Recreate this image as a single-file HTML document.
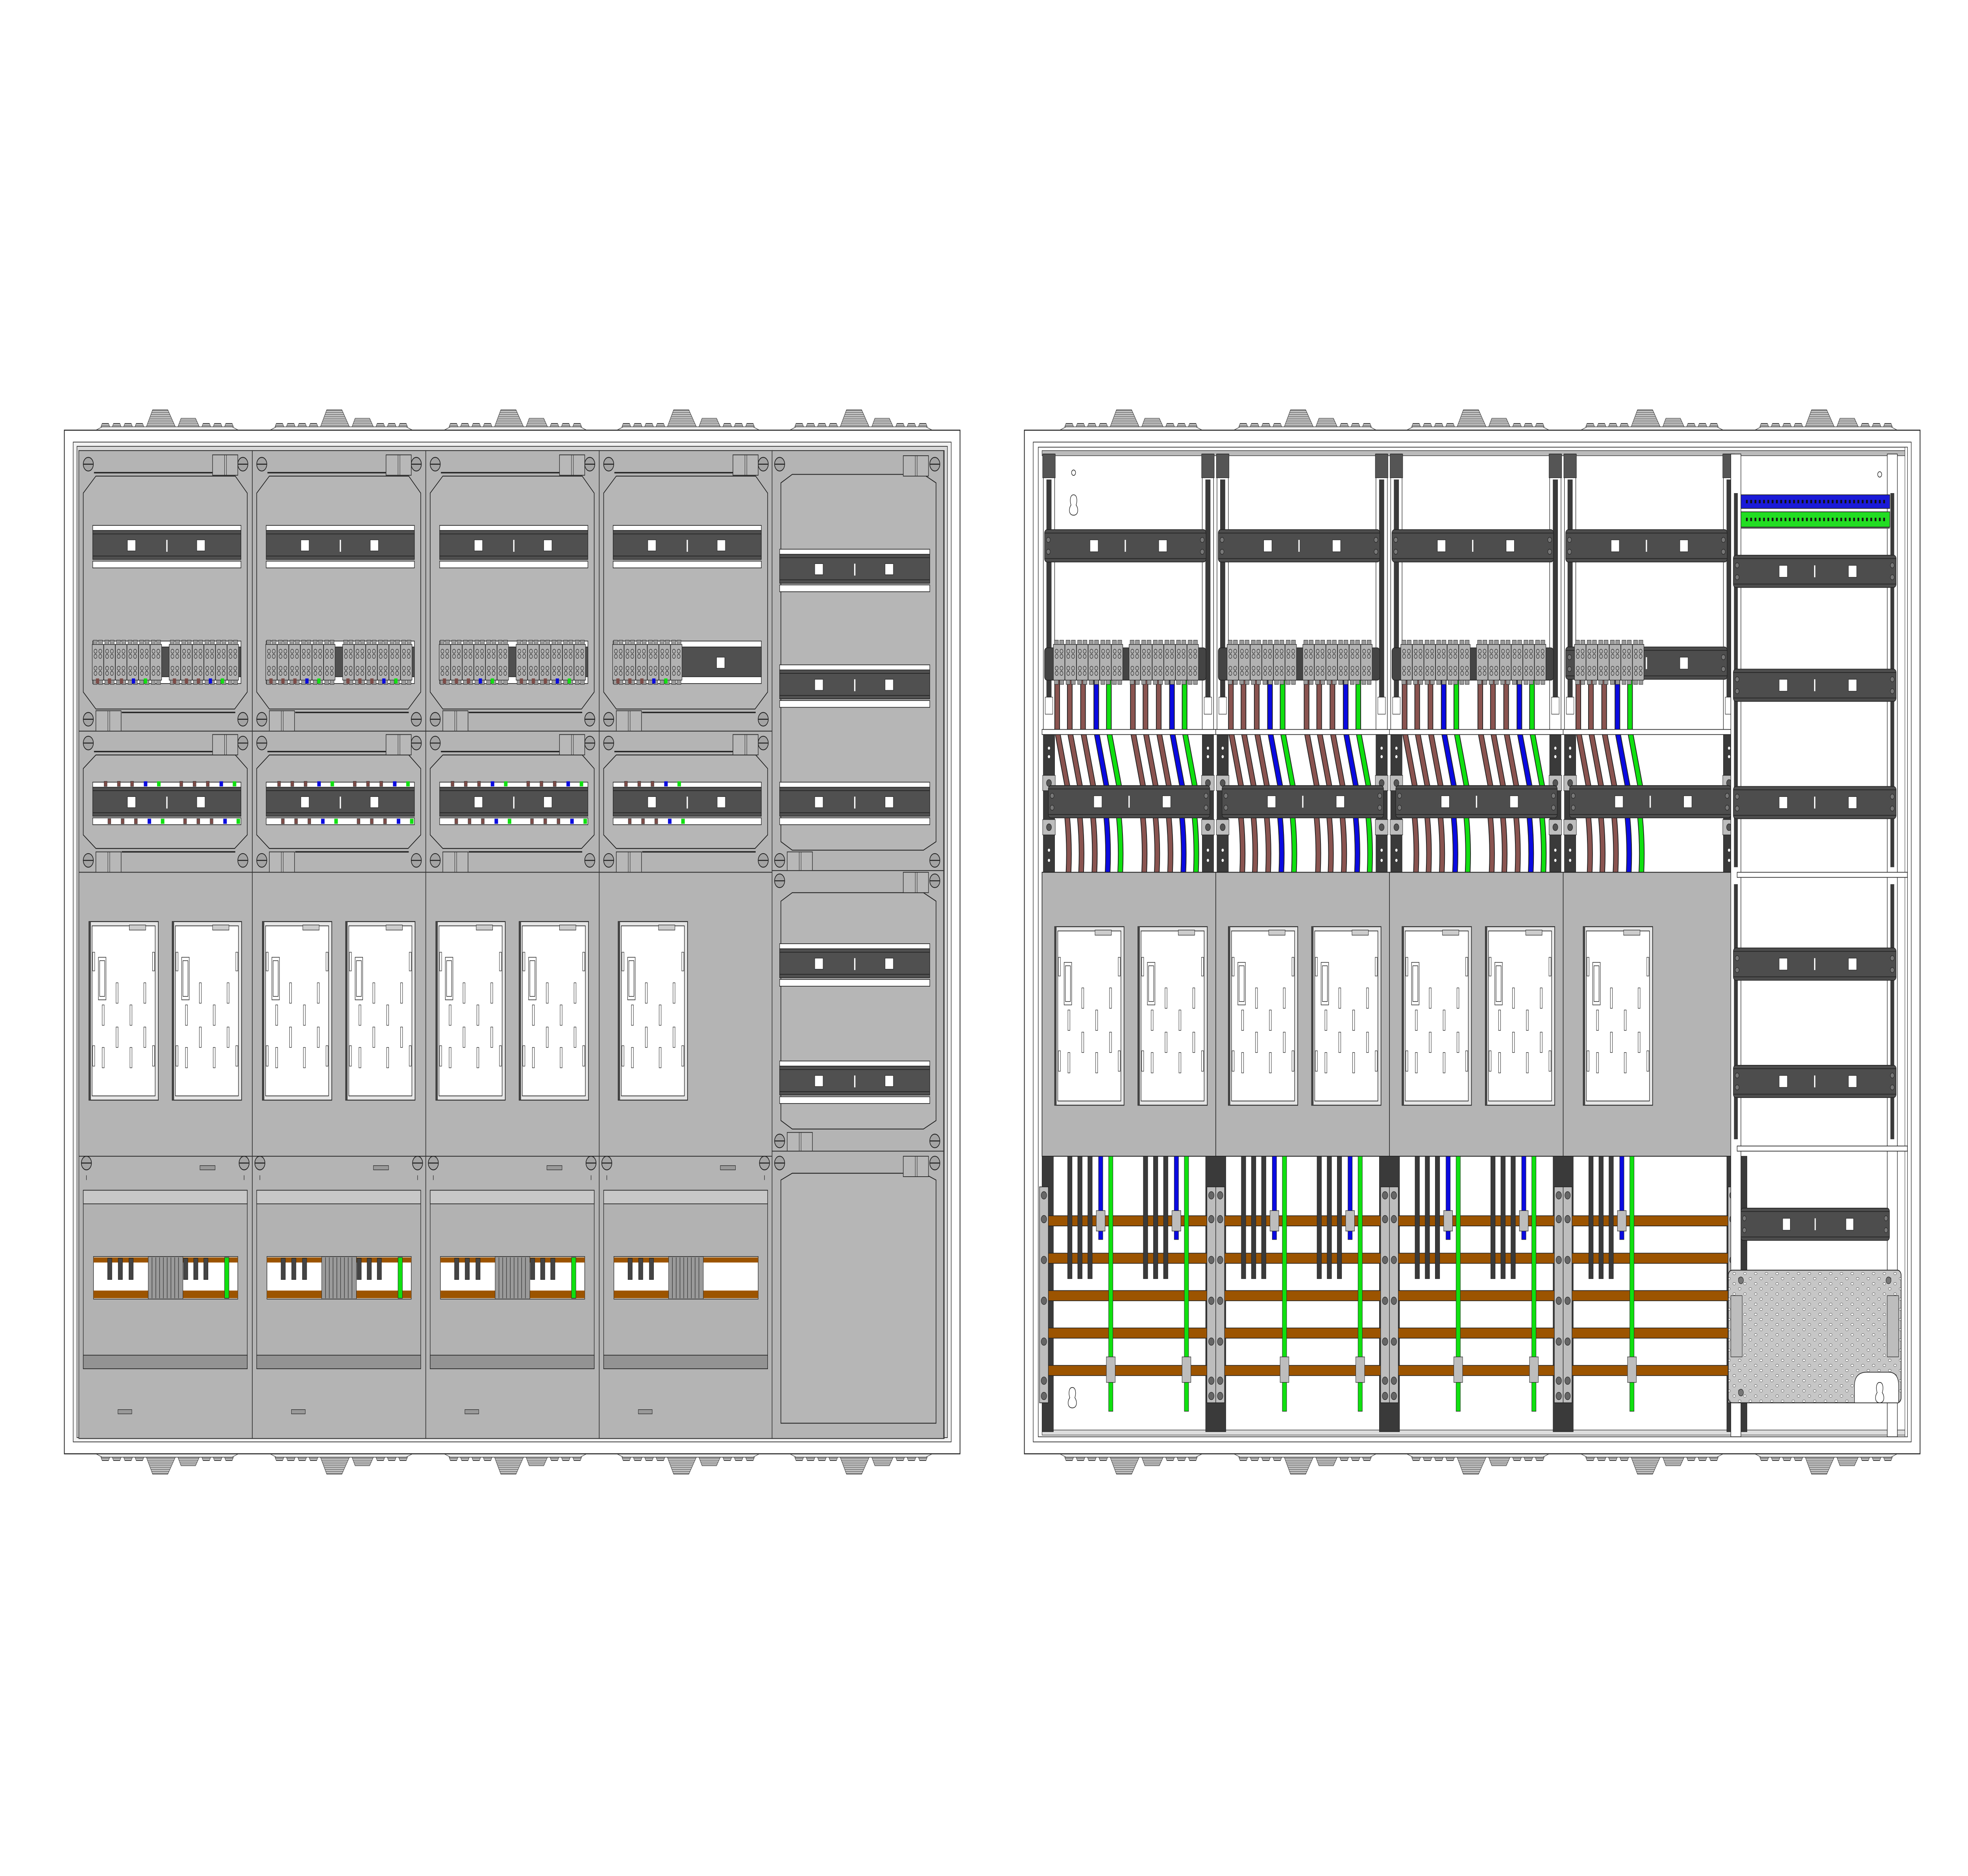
<!DOCTYPE html>
<html><head><meta charset="utf-8"><style>html,body{margin:0;padding:0;background:#fff;width:100%;height:100%;overflow:hidden}svg{display:block;position:fixed;left:0;top:0;width:100vw;height:100vh}</style></head>
<body>
<svg xmlns="http://www.w3.org/2000/svg" xmlns:xlink="http://www.w3.org/1999/xlink" viewBox="0 0 1560 1103.3" preserveAspectRatio="none">
<defs>
<pattern id="hatch" width="3" height="1.1" patternUnits="userSpaceOnUse"><rect width="3" height="1.1" fill="#d0d0d0"/><line x1="0" y1=".55" x2="3" y2=".55" stroke="#444" stroke-width=".3"/></pattern>
<pattern id="perf" x="1376" y="750" width="8.5" height="6" patternUnits="userSpaceOnUse"><rect width="8.5" height="6" fill="#c6c6c6"/><ellipse cx="3" cy="2" rx="1.1" ry=".7" fill="#fff" stroke="#333" stroke-width=".2"/><ellipse cx="7.2" cy="5" rx="1.1" ry=".7" fill="#fff" stroke="#333" stroke-width=".2"/></pattern>
<g id="gl">
<polygon points="0,12 5,10 108,10 113,12" fill="#eee" stroke="#333" stroke-width=".3"/>
<polygon points="4,10 5,8 10,8 11,10" fill="url(#hatch)" stroke="#333" stroke-width=".3"/>
<polygon points="13,10 14,8 19,8 20,10" fill="url(#hatch)" stroke="#333" stroke-width=".3"/>
<polygon points="22,10 23,8 28,8 29,10" fill="url(#hatch)" stroke="#333" stroke-width=".3"/>
<polygon points="31,10 32,8 37,8 38,10" fill="url(#hatch)" stroke="#333" stroke-width=".3"/>
<polygon points="40,10 45,0 57,0 63,10" fill="url(#hatch)" stroke="#333" stroke-width=".3"/>
<polygon points="65,10 67.5,5 79,5 82,10" fill="url(#hatch)" stroke="#333" stroke-width=".3"/>
<polygon points="84,10 85,8 90,8 91,10" fill="url(#hatch)" stroke="#333" stroke-width=".3"/>
<polygon points="93,10 94,8 99,8 100,10" fill="url(#hatch)" stroke="#333" stroke-width=".3"/>
<polygon points="102,10 103,8 108,8 109,10" fill="url(#hatch)" stroke="#333" stroke-width=".3"/>
</g>
<g id="scr"><circle r="4" fill="#a4a4a4" stroke="#222" stroke-width=".5"/><line x1="-4" y1="0" x2="4" y2="0" stroke="#222" stroke-width=".6"/></g>
<g id="hg"><rect width="20" height="12" fill="#b8b8b8" stroke="#222" stroke-width=".4"/><line x1="9.5" y1="0" x2="9.5" y2="12" stroke="#222" stroke-width=".3"/><line x1="11" y1="0" x2="11" y2="12" stroke="#222" stroke-width=".3"/></g>
<g id="railL">
<rect x="0" y="-12" width="117.5" height="3" fill="#fff" stroke="#222" stroke-width=".4"/>
<rect x="0" y="-9" width="117.5" height="17" fill="#505050" stroke="#222" stroke-width=".4"/>
<line x1="0" y1="-7" x2="117.5" y2="-7" stroke="#222" stroke-width=".4"/>
<line x1="0" y1="6" x2="117.5" y2="6" stroke="#222" stroke-width=".4"/>
<rect x="0" y="9" width="117.5" height="4" fill="#fff" stroke="#222" stroke-width=".4"/>
<rect x="27.5" y="-3.5" width="6.5" height="6.5" fill="#fff" stroke="#222" stroke-width=".3"/>
<rect x="82.5" y="-3.5" width="6.5" height="6.5" fill="#fff" stroke="#222" stroke-width=".3"/>
<rect x="58.3" y="-3.5" width="1" height="7" fill="#fff"/>
</g>
<g id="railR">
<rect x="0" y="-9.5" width="128" height="19" rx="2" fill="#4d4d4d" stroke="#222" stroke-width=".4"/>
<line x1="0" y1="-7.5" x2="128" y2="-7.5" stroke="#222" stroke-width=".4"/>
<line x1="0" y1="7.5" x2="128" y2="7.5" stroke="#222" stroke-width=".4"/>
<rect x="36" y="-3.5" width="6.5" height="7" fill="#fff" stroke="#222" stroke-width=".3"/>
<rect x="90.5" y="-3.5" width="6.5" height="7" fill="#fff" stroke="#222" stroke-width=".3"/>
<rect x="63.5" y="-3.5" width="1" height="7" fill="#fff"/>
<circle cx="3" cy="-3.5" r="1.5" fill="#777" stroke="#222" stroke-width=".3"/><circle cx="3" cy="3.5" r="1.5" fill="#777" stroke="#222" stroke-width=".3"/>
<circle cx="125" cy="-3.5" r="1.5" fill="#777" stroke="#222" stroke-width=".3"/><circle cx="125" cy="3.5" r="1.5" fill="#777" stroke="#222" stroke-width=".3"/>
</g>
<g id="blk">
<rect x="0" y="-11" width="9" height="21" fill="#b2b2b2" stroke="#222" stroke-width=".35"/>
<rect x=".8" y="-13.5" width="3.2" height="2.5" fill="#9a9a9a" stroke="#222" stroke-width=".25"/><rect x="5" y="-13.5" width="3.2" height="2.5" fill="#9a9a9a" stroke="#222" stroke-width=".25"/>
<rect x=".8" y="10" width="3.2" height="2.5" fill="#9a9a9a" stroke="#222" stroke-width=".25"/><rect x="5" y="10" width="3.2" height="2.5" fill="#9a9a9a" stroke="#222" stroke-width=".25"/>
<g fill="none" stroke="#222" stroke-width=".3"><circle cx="2.6" cy="-7" r="1.2"/><circle cx="6.4" cy="-7" r="1.2"/><circle cx="2.6" cy="-4" r="1.2"/><circle cx="6.4" cy="-4" r="1.2"/><circle cx="2.6" cy="3" r="1.2"/><circle cx="6.4" cy="3" r="1.2"/><circle cx="2.6" cy="6" r="1.2"/><circle cx="6.4" cy="6" r="1.2"/></g>
</g>
<g id="tb"><use href="#blk" x="0"/><use href="#blk" x="9.2"/><use href="#blk" x="18.4"/><use href="#blk" x="27.6"/><use href="#blk" x="36.8"/><use href="#blk" x="46"/></g>
<g id="mtr">
<rect width="55" height="105" fill="#e6e6e6" stroke="#222" stroke-width=".5"/>
<rect width="1.5" height="105" fill="#444"/>
<rect x="2.5" y="2.5" width="50" height="100" fill="#fff" stroke="#222" stroke-width=".4"/>
<rect x="32" y="2" width="13" height="3" fill="#ccc" stroke="#222" stroke-width=".3"/>
<path d="M7.5 21h6v25h-6z M8.5 23h4v21h-4z" fill="none" stroke="#222" stroke-width=".35"/>
<g fill="#fff" stroke="#222" stroke-width=".3">
<rect x="21.5" y="36" width="1.6" height="12"/><rect x="43.5" y="36" width="1.6" height="12"/>
<rect x="10.5" y="49" width="1.6" height="12"/><rect x="32.5" y="49" width="1.6" height="12"/>
<rect x="21.5" y="62" width="1.6" height="12"/><rect x="43.5" y="62" width="1.6" height="12"/>
<rect x="10.5" y="74" width="1.6" height="12"/><rect x="32.5" y="74" width="1.6" height="12"/>
<rect x="3" y="18" width="1.6" height="11"/><rect x="50.4" y="18" width="1.6" height="11"/>
<rect x="3" y="73" width="1.6" height="12"/><rect x="50.4" y="73" width="1.6" height="12"/>
</g>
</g>
<g id="modA">
<rect x="0" y="265" width="137.5" height="165" fill="#b4b4b4" stroke="#333" stroke-width=".5"/>
<polygon points="13.5,280 124,280 133.5,290 133.5,407 123.5,417 13.5,417 3.5,407 3.5,290" fill="#b6b6b6" stroke="#222" stroke-width=".5"/>
<line x1="12" y1="278" x2="106" y2="278" stroke="#222" stroke-width=".8"/>
<line x1="34" y1="419" x2="124" y2="419" stroke="#222" stroke-width=".8"/>
<use href="#scr" x="7.5" y="273"/><use href="#scr" x="130" y="273"/><use href="#scr" x="7.5" y="423"/><use href="#scr" x="130" y="423"/>
<use href="#hg" x="106" y="267.5"/><use href="#hg" x="13.5" y="418"/>
<use href="#railL" x="11" y="321"/>
<rect x="11" y="377" width="117.5" height="25" fill="#fff" stroke="#222" stroke-width=".4"/>
<rect x="11" y="380.5" width="117.5" height="17.5" fill="#505050" stroke="#222" stroke-width=".4"/>
</g>
<g id="termL">
<use href="#tb" x="10.6" y="390"/>
<rect x="13.5" y="399" width="2.6" height="3" fill="#7d4c48"/><rect x="23" y="399" width="2.6" height="3" fill="#7d4c48"/><rect x="32.5" y="399" width="2.6" height="3" fill="#7d4c48"/><rect x="42" y="399" width="2.6" height="3" fill="#0a0ae0"/><rect x="51.5" y="399" width="2.6" height="3" fill="#10e010"/>
</g>
<g id="marksA">
<g fill="#7d4c48" stroke="#222" stroke-width=".2"><rect x="20" y="459.5" width="2.4" height="3"/><rect x="30.5" y="459.5" width="2.4" height="3"/><rect x="41" y="459.5" width="2.4" height="3"/><rect x="23" y="481.5" width="2.4" height="3"/><rect x="33.5" y="481.5" width="2.4" height="3"/><rect x="44" y="481.5" width="2.4" height="3"/></g>
<rect x="51.5" y="459.5" width="2.8" height="3" fill="#0a0ae0"/><rect x="62" y="459.5" width="2.8" height="3" fill="#10e010"/>
<rect x="54.5" y="481.5" width="2.8" height="3" fill="#0a0ae0"/><rect x="65" y="481.5" width="2.8" height="3" fill="#10e010"/>
</g>
<g id="modB">
<rect x="0" y="430" width="137.5" height="83" fill="#b4b4b4" stroke="#333" stroke-width=".5"/>
<polygon points="13.5,444 124,444 133.5,452 133.5,491 123.5,499 13.5,499 3.5,491 3.5,452" fill="#b6b6b6" stroke="#222" stroke-width=".5"/>
<line x1="12" y1="442" x2="106" y2="442" stroke="#222" stroke-width=".8"/>
<line x1="34" y1="501" x2="124" y2="501" stroke="#222" stroke-width=".8"/>
<use href="#scr" x="7.5" y="437"/><use href="#scr" x="130" y="437"/><use href="#scr" x="7.5" y="506"/><use href="#scr" x="130" y="506"/>
<use href="#hg" x="106" y="432"/><use href="#hg" x="13.5" y="501"/>
<use href="#railL" x="11" y="472"/>
<use href="#marksA"/>
</g>
<g id="modC"><rect x="0" y="513" width="137.5" height="167" fill="#b4b4b4" stroke="#333" stroke-width=".5"/></g>
<g id="modD">
<rect x="0" y="680" width="137.5" height="166" fill="#b4b4b4" stroke="#333" stroke-width=".5"/>
<use href="#scr" x="6" y="684"/><use href="#scr" x="131" y="684"/>
<text x="6" y="694" font-family="Liberation Sans, sans-serif" font-size="4" text-anchor="middle" fill="#222">I</text>
<text x="131" y="694" font-family="Liberation Sans, sans-serif" font-size="4" text-anchor="middle" fill="#222">I</text>
<rect x="96" y="685.5" width="12" height="2.5" fill="#999" stroke="#222" stroke-width=".3"/>
<rect x="3.5" y="700" width="130" height="105" fill="#b2b2b2" stroke="#222" stroke-width=".4"/>
<rect x="3.5" y="700" width="130" height="8" fill="#c8c8c8" stroke="#222" stroke-width=".4"/>
<rect x="3.5" y="797" width="130" height="8" fill="#939393" stroke="#222" stroke-width=".4"/>
<rect x="31" y="829" width="11" height="2.5" fill="#999" stroke="#222" stroke-width=".3"/>
<rect x="11.6" y="739" width="114.4" height="25" fill="#fff" stroke="#222" stroke-width=".4"/>
<rect x="11.6" y="739.5" width="114.4" height="3" fill="#9c5400"/>
<rect x="11.6" y="759" width="114.4" height="4.5" fill="#9c5400"/>
<g fill="#444" stroke="#222" stroke-width=".3"><rect x="22.8" y="740" width="3.4" height="12.5"/><rect x="31.2" y="740" width="3.4" height="12.5"/><rect x="39.7" y="740" width="3.4" height="12.5"/></g>
<rect x="55" y="739" width="27.5" height="25" fill="#9a9a9a" stroke="#222" stroke-width=".3"/>
<g stroke="#333" stroke-width=".4"><line x1="58" y1="739.5" x2="58" y2="763.5"/><line x1="61" y1="739.5" x2="61" y2="763.5"/><line x1="64" y1="739.5" x2="64" y2="763.5"/><line x1="67" y1="739.5" x2="67" y2="763.5"/><line x1="70" y1="739.5" x2="70" y2="763.5"/><line x1="73" y1="739.5" x2="73" y2="763.5"/><line x1="76" y1="739.5" x2="76" y2="763.5"/><line x1="79" y1="739.5" x2="79" y2="763.5"/></g>
</g>
<g id="modDext">
<g fill="#444" stroke="#222" stroke-width=".3"><rect x="83" y="740" width="3.4" height="12.5"/><rect x="91" y="740" width="3.4" height="12.5"/><rect x="99" y="740" width="3.4" height="12.5"/></g>
<rect x="115.5" y="739.5" width="3.5" height="24" fill="#10e010" stroke="#222" stroke-width=".3"/>
</g>
<g id="srail">
<rect x="0" y="267" width="9" height="163" fill="#fff" stroke="#222" stroke-width=".4"/>
<rect x="2.5" y="282" width="4" height="130" fill="#3a3a3a"/>
<rect x="-.5" y="267" width="10" height="14" fill="#555" stroke="#222" stroke-width=".3"/>
<rect x="1.5" y="410" width="6" height="10" fill="#fff" stroke="#222" stroke-width=".3"/>
<rect x="0" y="432" width="9" height="81" fill="#3a3a3a" stroke="#222" stroke-width=".3"/>
<circle cx="4.5" cy="440" r=".9" fill="#fff"/><circle cx="4.5" cy="445" r=".9" fill="#fff"/>
<rect x="-.5" y="456" width="10" height="9" fill="#bdbdbd" stroke="#222" stroke-width=".3"/><circle cx="4.5" cy="460.5" r="2" fill="#555" stroke="#222" stroke-width=".3"/>
<rect x="-.5" y="482" width="10" height="9" fill="#bdbdbd" stroke="#222" stroke-width=".3"/><circle cx="4.5" cy="486.5" r="2" fill="#555" stroke="#222" stroke-width=".3"/>
<circle cx="4.5" cy="500" r=".9" fill="#fff"/><circle cx="4.5" cy="506" r=".9" fill="#fff"/>
</g>
<g id="wA" fill="none" stroke-linecap="butt">
<g stroke="#222" stroke-width="4.4">
<path d="M12 400V430L20 462V481Q22 497 21 513"/><path d="M22 400V430L30 462V481Q32 497 31 513"/><path d="M32.5 400V430L40.5 462V481Q42.5 497 41.5 513"/><path d="M43 400V430L51 462V481Q53 497 52 513"/><path d="M53 400V430L61 462V481Q63 497 62 513"/>
</g>
<path d="M12 400V430L20 462V481Q22 497 21 513" stroke="#8a5450" stroke-width="3.2"/><path d="M22 400V430L30 462V481Q32 497 31 513" stroke="#8a5450" stroke-width="3.2"/><path d="M32.5 400V430L40.5 462V481Q42.5 497 41.5 513" stroke="#8a5450" stroke-width="3.2"/><path d="M43 400V430L51 462V481Q53 497 52 513" stroke="#0a0ae0" stroke-width="3.2"/><path d="M53 400V430L61 462V481Q63 497 62 513" stroke="#10e010" stroke-width="3.2"/>
</g>
<g id="lA">
<g fill="#3a3a3a" stroke="#222" stroke-width=".3"><rect x="20.3" y="680" width="3.5" height="72"/><rect x="28.3" y="680" width="3.5" height="72"/><rect x="36.3" y="680" width="3.5" height="72"/></g>
<rect x="44.8" y="680" width="3.4" height="49" fill="#0a0ae0" stroke="#222" stroke-width=".3"/>
<rect x="52.8" y="680" width="3.4" height="150" fill="#10e010" stroke="#222" stroke-width=".3"/>
<rect x="43" y="712" width="7" height="12" fill="#bdbdbd" stroke="#222" stroke-width=".3"/>
<rect x="51" y="798" width="7" height="15" fill="#bdbdbd" stroke="#222" stroke-width=".3"/>
</g>
<g id="mb">
<rect x="0" y="698" width="7" height="127" fill="#bdbdbd" stroke="#222" stroke-width=".4"/>
<g fill="#666" stroke="#222" stroke-width=".3"><circle cx="3.5" cy="703" r="2.2"/><circle cx="3.5" cy="717" r="2.2"/><circle cx="3.5" cy="741" r="2.2"/><circle cx="3.5" cy="765" r="2.2"/><circle cx="3.5" cy="789" r="2.2"/><circle cx="3.5" cy="812" r="2.2"/><circle cx="3.5" cy="821" r="2.2"/></g>
</g>
<g id="keyh"><path d="M0 -6 C3 -6 3 -2 2 0 C4 2 4 6 0 6 C-4 6 -4 2 -2 0 C-3 -2 -3 -6 0 -6Z" fill="#fff" stroke="#222" stroke-width=".4"/></g>
</defs>

<use href="#gl" x="76" y="241"/><use href="#gl" x="214" y="241"/><use href="#gl" x="352" y="241"/><use href="#gl" x="489" y="241"/><use href="#gl" x="626" y="241"/>
<use href="#gl" transform="translate(76,867) scale(1,-1)"/><use href="#gl" transform="translate(214,867) scale(1,-1)"/><use href="#gl" transform="translate(352,867) scale(1,-1)"/><use href="#gl" transform="translate(489,867) scale(1,-1)"/><use href="#gl" transform="translate(626,867) scale(1,-1)"/>
<rect x="51" y="253" width="710" height="602" fill="#fff" stroke="#222" stroke-width=".6"/>
<rect x="58" y="260" width="696" height="588" fill="#f2f2f2" stroke="#222" stroke-width=".4"/>
<rect x="61" y="262.5" width="690" height="583" fill="#d8d8d8" stroke="#222" stroke-width=".4"/>
<rect x="62.5" y="265" width="686" height="581" fill="#b4b4b4" stroke="#222" stroke-width=".4"/>

<g transform="translate(62.5,0)"><use href="#modA"/><use href="#termL"/><use href="#termL" x="61"/><use href="#modB"/><use href="#marksA" x="60"/><use href="#modC"/><use href="#mtr" x="8" y="542"/><use href="#mtr" x="74" y="542"/><use href="#modD"/><use href="#modDext"/></g>
<g transform="translate(200,0)"><use href="#modA"/><use href="#termL"/><use href="#termL" x="61"/><use href="#modB"/><use href="#marksA" x="60"/><use href="#modC"/><use href="#mtr" x="8" y="542"/><use href="#mtr" x="74" y="542"/><use href="#modD"/><use href="#modDext"/></g>
<g transform="translate(337.5,0)"><use href="#modA"/><use href="#termL"/><use href="#termL" x="61"/><use href="#modB"/><use href="#marksA" x="60"/><use href="#modC"/><use href="#mtr" x="8" y="542"/><use href="#mtr" x="74" y="542"/><use href="#modD"/><use href="#modDext"/></g>
<g transform="translate(475,0)"><use href="#modA"/><use href="#termL"/><rect x="93" y="386.5" width="6.5" height="6.5" fill="#fff" stroke="#222" stroke-width=".3"/><use href="#modB"/><use href="#modC"/><use href="#mtr" x="15" y="542"/><use href="#modD"/></g>

<g>
<rect x="612" y="265" width="136" height="247" fill="#b4b4b4" stroke="#333" stroke-width=".5"/>
<polygon points="628,279 732,279 742,284 742,495 732,500 628,500 619,495 619,284" fill="#b6b6b6" stroke="#222" stroke-width=".5"/>
<use href="#scr" x="618" y="273"/><use href="#scr" x="741" y="273"/><use href="#scr" x="618" y="506"/><use href="#scr" x="741" y="506"/>
<use href="#hg" x="716" y="268"/><use href="#hg" x="624" y="501"/>
<use href="#railL" transform="translate(618,335) scale(1.013,1)"/>
<use href="#railL" transform="translate(618,403) scale(1.013,1)"/>
<use href="#railL" transform="translate(618,472) scale(1.013,1)"/>
<rect x="612" y="512" width="136" height="165" fill="#b4b4b4" stroke="#333" stroke-width=".5"/>
<polygon points="628,525 732,525 742,530 742,659 732,664 628,664 619,659 619,530" fill="#b6b6b6" stroke="#222" stroke-width=".5"/>
<use href="#scr" x="618" y="518"/><use href="#scr" x="741" y="518"/><use href="#scr" x="618" y="671"/><use href="#scr" x="741" y="671"/>
<use href="#hg" x="716" y="513"/><use href="#hg" x="624" y="666"/>
<use href="#railL" transform="translate(618,567) scale(1.013,1)"/>
<use href="#railL" transform="translate(618,636) scale(1.013,1)"/>
<rect x="612" y="677" width="136" height="169" fill="#b4b4b4" stroke="#333" stroke-width=".5"/>
<polygon points="628,690 732,690 742,694 742,837 619,837 619,694" fill="#b6b6b6" stroke="#222" stroke-width=".5"/>
<use href="#scr" x="618" y="684"/><use href="#scr" x="741" y="684"/>
<use href="#hg" x="716" y="680"/>
</g>

<use href="#gl" x="840" y="241"/><use href="#gl" x="978" y="241"/><use href="#gl" x="1115" y="241"/><use href="#gl" x="1253" y="241"/><use href="#gl" x="1391" y="241"/>
<use href="#gl" transform="translate(840,867) scale(1,-1)"/><use href="#gl" transform="translate(978,867) scale(1,-1)"/><use href="#gl" transform="translate(1115,867) scale(1,-1)"/><use href="#gl" transform="translate(1253,867) scale(1,-1)"/><use href="#gl" transform="translate(1391,867) scale(1,-1)"/>
<rect x="812" y="253" width="710" height="602" fill="#fff" stroke="#222" stroke-width=".6"/>
<rect x="819" y="260" width="696" height="588" fill="#fff" stroke="#222" stroke-width=".4"/>
<rect x="823" y="263" width="689" height="582" fill="#fff" stroke="#222" stroke-width=".4"/>
<rect x="826" y="265" width="686" height="3" fill="#bbb" stroke="#222" stroke-width=".3"/>
<rect x="826" y="841" width="686" height="3" fill="#ddd" stroke="#222" stroke-width=".3"/>

<circle cx="851" cy="278" r="1.6" fill="#fff" stroke="#222" stroke-width=".4"/>
<use href="#keyh" x="851" y="297"/>
<circle cx="1490" cy="279" r="1.6" fill="#fff" stroke="#222" stroke-width=".4"/>

<g transform="translate(826,0)"><use href="#wA"/><use href="#wA" x="60"/><use href="#srail" x="1"/><use href="#srail" x="127"/><use href="#railR" x="2" y="321"/><rect x="2" y="381" width="128" height="19" rx="2" fill="#444" stroke="#222" stroke-width=".4"/><use href="#tb" x="9" y="390"/><use href="#tb" x="69" y="390"/><rect x="0" y="429" width="137.7" height="3" fill="#fff" stroke="#222" stroke-width=".4"/><use href="#railR" x="5" y="471.5"/></g>
<g transform="translate(963.7,0)"><use href="#wA"/><use href="#wA" x="60"/><use href="#srail" x="1"/><use href="#srail" x="127"/><use href="#railR" x="2" y="321"/><rect x="2" y="381" width="128" height="19" rx="2" fill="#444" stroke="#222" stroke-width=".4"/><use href="#tb" x="9" y="390"/><use href="#tb" x="69" y="390"/><rect x="0" y="429" width="137.7" height="3" fill="#fff" stroke="#222" stroke-width=".4"/><use href="#railR" x="5" y="471.5"/></g>
<g transform="translate(1101.4,0)"><use href="#wA"/><use href="#wA" x="60"/><use href="#srail" x="1"/><use href="#srail" x="127"/><use href="#railR" x="2" y="321"/><rect x="2" y="381" width="128" height="19" rx="2" fill="#444" stroke="#222" stroke-width=".4"/><use href="#tb" x="9" y="390"/><use href="#tb" x="69" y="390"/><rect x="0" y="429" width="137.7" height="3" fill="#fff" stroke="#222" stroke-width=".4"/><use href="#railR" x="5" y="471.5"/></g>
<g transform="translate(1239.1,0)"><use href="#wA"/><use href="#srail" x="1"/><use href="#srail" x="127"/><use href="#railR" x="2" y="321"/><use href="#railR" x="2" y="390"/><use href="#tb" x="9" y="390"/><rect x="0" y="429" width="137.7" height="3" fill="#fff" stroke="#222" stroke-width=".4"/><use href="#railR" x="5" y="471.5"/></g>

<rect x="826" y="513" width="551" height="167" fill="#b4b4b4" stroke="#222" stroke-width=".5"/>
<g stroke="#222" stroke-width=".5"><line x1="963.7" y1="513" x2="963.7" y2="680"/><line x1="1101.4" y1="513" x2="1101.4" y2="680"/><line x1="1239.1" y1="513" x2="1239.1" y2="680"/></g>
<use href="#mtr" x="836" y="545"/><use href="#mtr" x="902" y="545"/>
<use href="#mtr" x="973.7" y="545"/><use href="#mtr" x="1039.7" y="545"/>
<use href="#mtr" x="1111.4" y="545"/><use href="#mtr" x="1177.4" y="545"/>
<use href="#mtr" x="1255" y="545"/>

<g fill="#3a3a3a" stroke="#222" stroke-width=".3">
<rect x="826" y="680" width="9" height="162"/><rect x="955.7" y="680" width="16" height="162"/><rect x="1093.4" y="680" width="16" height="162"/><rect x="1231.1" y="680" width="16" height="162"/><rect x="1368.8" y="680" width="16" height="162"/><rect x="1496" y="680" width="8" height="162"/>
</g>
<g fill="#9c5400" stroke="#222" stroke-width=".4">
<rect x="831" y="715" width="539" height="6"/><rect x="831" y="737" width="539" height="6"/><rect x="831" y="759" width="539" height="6"/><rect x="831" y="781" width="539" height="6"/><rect x="831" y="803" width="539" height="6"/>
</g>
<g transform="translate(826,0)"><use href="#lA"/><use href="#lA" x="60"/></g>
<g transform="translate(963.7,0)"><use href="#lA"/><use href="#lA" x="60"/></g>
<g transform="translate(1101.4,0)"><use href="#lA"/><use href="#lA" x="60"/></g>
<g transform="translate(1239.1,0)"><use href="#lA"/></g>
<use href="#mb" x="824"/><use href="#mb" x="956.7"/><use href="#mb" x="963.7"/><use href="#mb" x="1094.4"/><use href="#mb" x="1101.4"/><use href="#mb" x="1232.1"/><use href="#mb" x="1239.1"/><use href="#mb" x="1369.8"/>
<use href="#keyh" x="850" y="822"/>

<g>
<rect x="1372" y="267" width="8" height="578" fill="#fff" stroke="#222" stroke-width=".4"/>
<rect x="1374.5" y="290" width="3" height="220" fill="#3a3a3a"/>
<rect x="1374.5" y="520" width="3" height="150" fill="#3a3a3a"/>
<rect x="1496" y="267" width="8" height="578" fill="#fff" stroke="#222" stroke-width=".4"/>
<rect x="1498.5" y="290" width="3" height="220" fill="#3a3a3a"/>
<rect x="1498.5" y="520" width="3" height="150" fill="#3a3a3a"/>
<rect x="1510" y="263" width="2" height="582" fill="#fff" stroke="#222" stroke-width=".3"/>
<rect x="1380" y="291" width="118" height="8" fill="#1a1ad8" stroke="#222" stroke-width=".4"/>
<rect x="1380" y="301" width="118" height="9" fill="#22dd22" stroke="#222" stroke-width=".4"/>
<line x1="1384" y1="295" x2="1496" y2="295" stroke="#111" stroke-width="2" stroke-dasharray="1.4 2"/>
<line x1="1384" y1="305.5" x2="1496" y2="305.5" stroke="#111" stroke-width="2" stroke-dasharray="1.4 2"/>
<line x1="1380" y1="310.5" x2="1498" y2="310.5" stroke="#555" stroke-width=".8"/>
<use href="#railR" transform="translate(1374,336) scale(1.0078,1)"/>
<use href="#railR" transform="translate(1374,403) scale(1.0078,1)"/>
<use href="#railR" transform="translate(1374,472) scale(1.0078,1)"/>
<rect x="1377" y="513" width="135" height="3" fill="#fff" stroke="#222" stroke-width=".4"/>
<use href="#railR" transform="translate(1374,567) scale(1.0078,1)"/>
<use href="#railR" transform="translate(1374,636) scale(1.0078,1)"/>
<rect x="1377" y="674" width="135" height="3" fill="#fff" stroke="#222" stroke-width=".4"/>
<use href="#railR" transform="translate(1380,720) scale(0.92,1)"/>
<rect x="1370" y="747" width="137" height="78" rx="3" fill="url(#perf)" stroke="#222" stroke-width=".5"/>
<path d="M1470 825 V815 Q1470 807 1480 807 H1497 Q1505 807 1505 815 V825 Z" fill="#fff" stroke="#222" stroke-width=".4"/>
<use href="#keyh" x="1490" y="819"/>
<g fill="#777" stroke="#222" stroke-width=".3"><circle cx="1380" cy="753" r="2"/><circle cx="1497" cy="753" r="2"/><circle cx="1380" cy="819" r="2"/></g>
<rect x="1372" y="762" width="9" height="36" fill="#bdbdbd" stroke="#222" stroke-width=".3"/>
<rect x="1496" y="762" width="9" height="36" fill="#bdbdbd" stroke="#222" stroke-width=".3"/>
</g>
</svg>
</body></html>
